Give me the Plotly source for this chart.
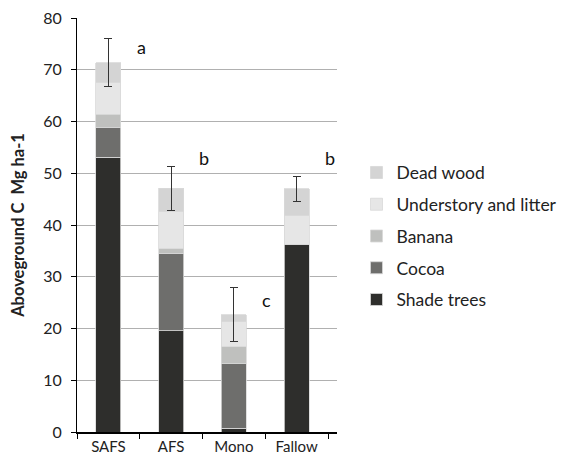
import plotly.graph_objects as go

categories = ["SAFS", "AFS", "Mono", "Fallow"]
shade_trees = [53.1, 19.6, 0.7, 36.3]
cocoa = [5.8, 14.9, 12.5, 0.0]
banana = [2.5, 0.9, 3.3, 0.0]
understory = [6.2, 7.3, 4.8, 5.6]
dead_wood = [3.8, 4.4, 1.4, 5.1]
error = [4.6, 4.3, 5.3, 2.45]
letters = ["a", "b", "c", "b"]
letter_y = [74.4, 52.9, 25.5, 52.9]

series = [
    ("Shade trees", shade_trees, "#2e2e2c"),
    ("Cocoa", cocoa, "#6e6e6c"),
    ("Banana", banana, "#bfc0be"),
    ("Understory and litter", understory, "#e6e6e6"),
    ("Dead wood", dead_wood, "#d4d4d4"),
]

fig = go.Figure()
n = len(series)
for i, (name, vals, col) in enumerate(series):
    kw = {}
    if name == "Dead wood":
        kw["error_y"] = dict(type="data", array=error, visible=True,
                             color="#333333", thickness=1, width=4)
    fig.add_trace(go.Bar(
        x=categories, y=vals, name=name, marker_color=col,
        marker_line=dict(color="#d8d8d8", width=0.8),
        legendgroup=name, legendrank=n - i, **kw))

for i, (lab, ly) in enumerate(zip(letters, letter_y)):
    fig.add_annotation(x=i + 0.42, y=ly, xref="x", yref="y", text=lab,
                       showarrow=False, xanchor="left",
                       font=dict(size=18, color="#111"))

fig.update_layout(
    barmode="stack",
    bargap=0.6,
    width=565, height=454,
    margin=dict(l=69, r=210, t=10, b=30),
    paper_bgcolor="white", plot_bgcolor="white",
    font=dict(family="Lato, Open Sans, sans-serif", size=16, color="#222"),
    legend=dict(x=1.075, y=0.67, xanchor="left", yanchor="top",
                traceorder="grouped", tracegroupgap=6,
                font=dict(size=17.5)),
    xaxis=dict(showline=True, linecolor="black", linewidth=1.5,
               ticks="outside", tickson="boundaries", ticklen=5,
               tickcolor="black", tickfont=dict(size=15), automargin=False),
    yaxis=dict(range=[0, 80], dtick=10, showline=True, linecolor="black",
               linewidth=1, ticks="outside", ticklen=5, tickcolor="black",
               showgrid=True, gridcolor="#b0b0b0", gridwidth=1,
               zeroline=False, tickfont=dict(size=16), automargin=False,
               ticklabelstandoff=6, ticklabeloverflow="allow",
               title=dict(text="<b>Aboveground C  Mg ha-1</b>",
                          font=dict(size=16.5), standoff=24)),
)

fig.write_html("out.html")
